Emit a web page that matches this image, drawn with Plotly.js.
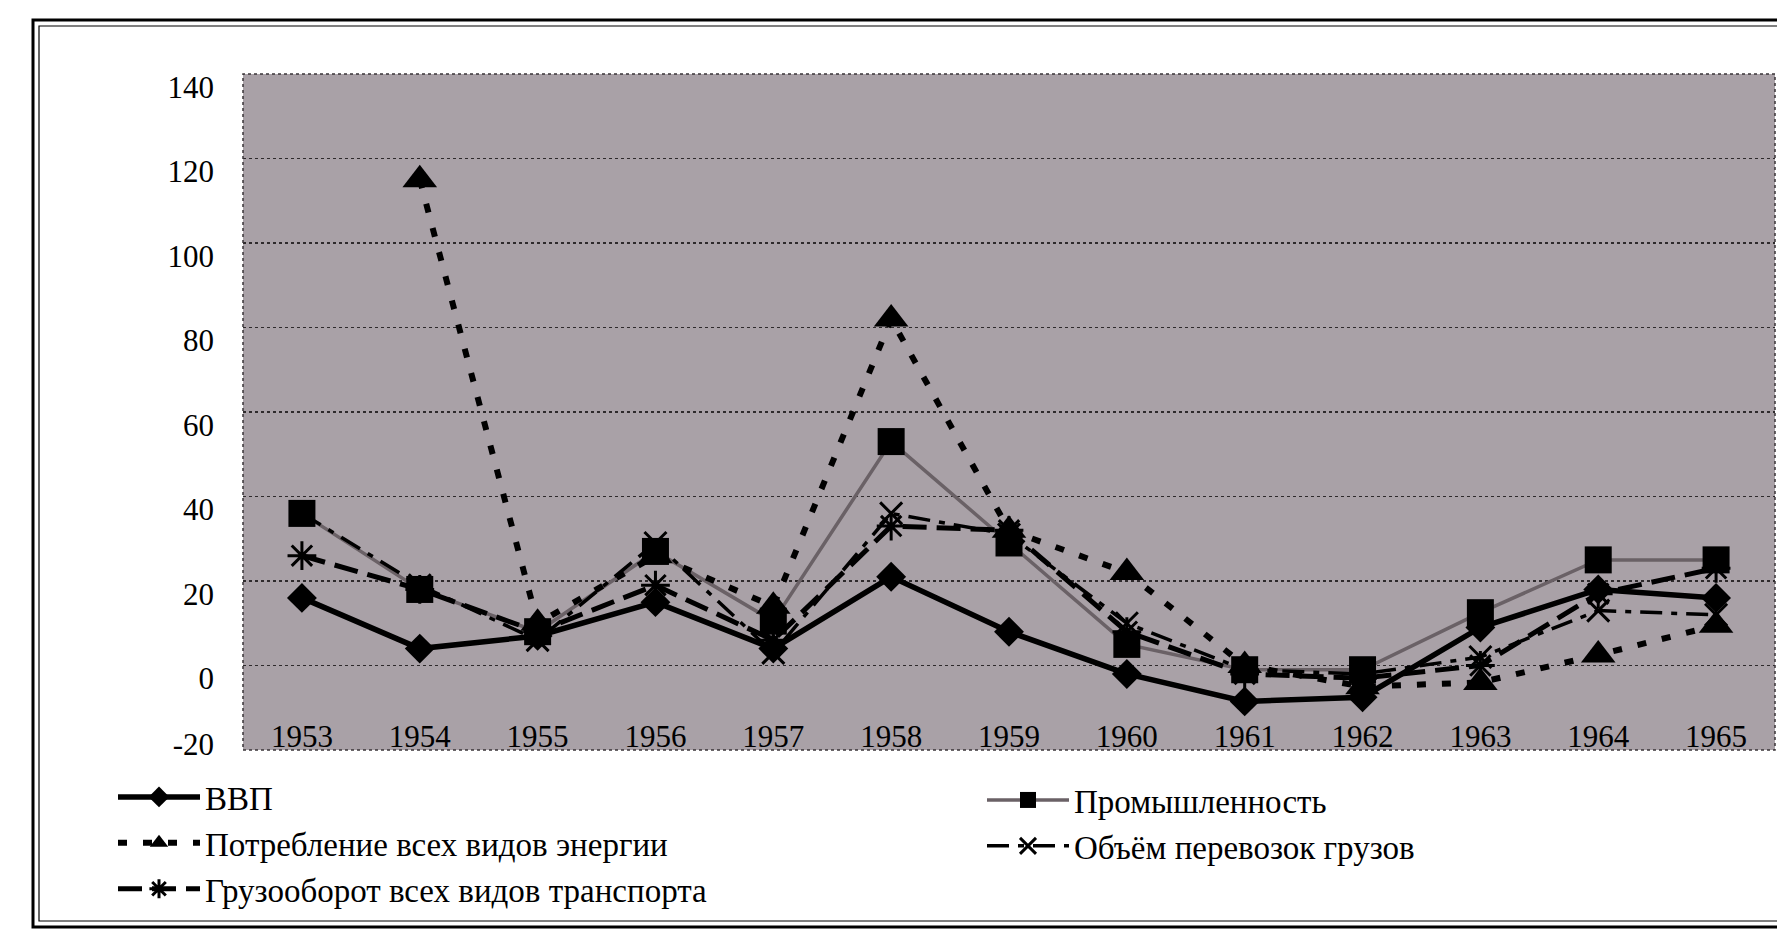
<!DOCTYPE html>
<html>
<head>
<meta charset="utf-8">
<script src="https://cdn.plot.ly/plotly-3.0.1.min.js"></script>
<style>
  html, body { margin: 0; padding: 0; background: #ffffff; }
  #chart { width: 1777px; height: 930px; }
</style>
</head>
<body>
<div id="chart"></div>
<script>
// ---- data ----
const years = ['1953','1954','1955','1956','1957','1958','1959','1960','1961','1962','1963','1964','1965'];

const gdp       = [16, 4, 7, 15, 4, 21, 8, -2, -8.5, -7.5, 9, 18, 16];
const industry  = [36, 18, 8, 27, 10.5, 53, 29, 5, -1, -1, 12.5, 25, 25];
const energy    = [null, 115, 10, 26, 14, 82, 32, 22, 0, -5, -4, 2.5, 9.5];
const freightTurnover = [26, 18, 8, 19, 6, 33, 32, 8, -2, -3, 0, 17, 23];
const freightVolume   = [36, 19, 6, 29, 3, 36, 31, 10, -1, -2, 2, 13, 12];

const yTicksMain = [0, 20, 40, 60, 80, 100, 120, 140];
const yTicksBottom = [-20];
const yRange = [-20, 140];

const names = {
  gdp: 'ВВП',
  industry: 'Промышленность',
  energy: 'Потребление всех видов энергии',
  turnover: 'Грузооборот всех видов транспорта',
  volume: 'Объём перевозок грузов'
};

// ---- geometry of the page ----
const W = 1777, H = 930;
const M = { l: 243, r: 2, t: 74, b: 180 };
const pw = W - M.l - M.r, ph = H - M.t - M.b;
const px = v => (v - M.l) / pw;          // page px -> paper x
const py = v => (H - M.b - v) / ph;      // page px -> paper y

const FONT = 'Liberation Serif, Times New Roman, serif';

const traces = [
  {
    x: years, y: industry, name: names.industry, type: 'scatter', mode: 'lines+markers',
    line: { color: '#6a6166', width: 3.5 },
    marker: { symbol: 'square', size: 27, color: '#000000' },
    legend: 'legend2'
  },
  {
    x: years, y: freightVolume, name: names.volume, type: 'scatter', mode: 'lines+markers',
    line: { color: '#000000', width: 3.5, dash: '22px,9px,6px,9px' },
    marker: { symbol: 'x-thin-open', size: 22, line: { color: '#000000', width: 3 } },
    legend: 'legend2'
  },
  {
    x: years, y: gdp, name: names.gdp, type: 'scatter', mode: 'lines+markers',
    line: { color: '#000000', width: 5.5 },
    marker: { symbol: 'diamond', size: 23, color: '#000000' },
    legend: 'legend'
  },
  {
    x: years, y: energy, name: names.energy, type: 'scatter', mode: 'lines+markers',
    connectgaps: false,
    line: { color: '#000000', width: 6, dash: '9px,16px' },
    marker: { symbol: 'triangle-up', size: 30, color: '#000000' },
    legend: 'legend'
  },
  {
    x: years, y: freightTurnover, name: names.turnover, type: 'scatter', mode: 'lines+markers',
    line: { color: '#000000', width: 5, dash: '24px,10px' },
    marker: { symbol: 'asterisk-open', size: 24, line: { color: '#000000', width: 3 } },
    legend: 'legend'
  },
  // empty trace so that the helper axis carrying the "-20" label is drawn
  { x: [], y: [], yaxis: 'y2', type: 'scatter', mode: 'lines', showlegend: false, hoverinfo: 'skip' }
];

const shapes = [
  // plot-area dotted border
  { type: 'rect', xref: 'paper', yref: 'paper', x0: 0, x1: 1, y0: 0, y1: 1,
    line: { color: '#3a3538', width: 1.5, dash: 'dot' }, layer: 'above' },
  // outer double frame of the figure
  { type: 'rect', xref: 'paper', yref: 'paper', x0: px(33), x1: px(1800), y0: py(927), y1: py(20),
    line: { color: '#000000', width: 3 }, fillcolor: 'rgba(0,0,0,0)', layer: 'below' },
  { type: 'rect', xref: 'paper', yref: 'paper', x0: px(39), x1: px(1800), y0: py(921), y1: py(26),
    line: { color: '#000000', width: 1.2 }, fillcolor: 'rgba(0,0,0,0)', layer: 'below' }
];

const legendCommon = {
  font: { family: FONT, size: 33, color: '#000000' },
  bgcolor: 'rgba(0,0,0,0)', borderwidth: 0,
  orientation: 'v', itemwidth: 82, tracegroupgap: 0,
  xanchor: 'left', yanchor: 'top', itemclick: false
};

const tickFont = { family: FONT, size: 31, color: '#000000' };

const layout = {
  width: W, height: H,
  margin: M,
  paper_bgcolor: '#ffffff',
  plot_bgcolor: '#a9a1a7',
  font: { family: FONT, size: 31, color: '#000000' },
  showlegend: true,
  legend: Object.assign({}, legendCommon, { x: px(113), y: py(769), traceorder: 'normal' }),
  legend2: Object.assign({}, legendCommon, { x: px(982), y: py(772), traceorder: 'normal' }),
  xaxis: {
    type: 'category', range: [-0.5, 12.5],
    showgrid: false, zeroline: false, showline: false,
    ticks: '', ticklabelposition: 'outside', ticklabelstandoff: -35,
    tickfont: tickFont, fixedrange: true
  },
  yaxis: {
    range: yRange, tickvals: yTicksMain, ticktext: yTicksMain.map(String),
    showgrid: true, gridcolor: '#2e2a2c', gridwidth: 1.3, griddash: 'dot',
    zeroline: false, showline: false, ticks: '',
    ticklabelstandoff: 28, ticklabelshift: 13,
    tickfont: tickFont, fixedrange: true
  },
  yaxis2: {
    overlaying: 'y', side: 'left', anchor: 'x',
    range: yRange, tickvals: yTicksBottom, ticktext: yTicksBottom.map(String),
    showgrid: false, zeroline: false, showline: false, ticks: '',
    ticklabelstandoff: 28, ticklabelshift: -6,
    tickfont: tickFont, fixedrange: true
  },
  shapes: shapes
};

Plotly.newPlot('chart', traces, layout, { displayModeBar: false, staticPlot: true });
</script>
</body>
</html>
